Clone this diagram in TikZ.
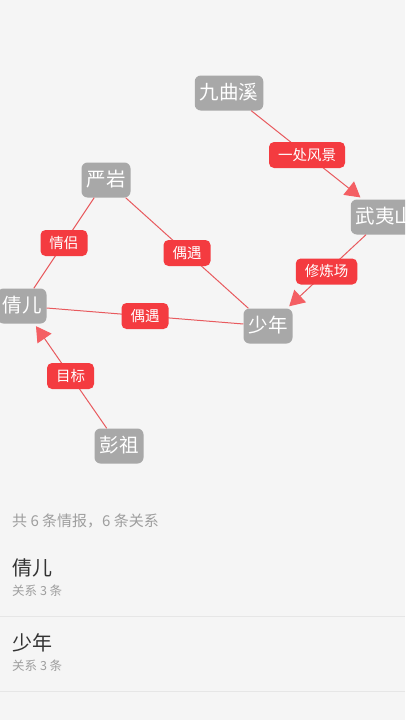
\documentclass[tikz,border=0pt]{standalone}
\usepackage{fontspec}
\setmainfont{Noto Sans CJK SC}
\usetikzlibrary{arrows.meta}
\definecolor{bg}{HTML}{F5F5F5}
\definecolor{nodegray}{HTML}{A8A8A8}
\definecolor{labred}{HTML}{F43B40}
\definecolor{edgered}{HTML}{E85A5E}
\definecolor{tipred}{HTML}{F45F63}
\definecolor{subgray}{HTML}{9E9E9E}
\definecolor{darktext}{HTML}{333333}
\definecolor{divider}{HTML}{E6E6E6}
\tikzset{
  person/.style={fill=nodegray, rounded corners=6pt, text=white, font=\fontsize{19.5}{19.5}\selectfont,
    minimum height=35pt, inner xsep=5pt, inner ysep=0pt, text height=15.5pt, text depth=2pt},
  rel/.style={fill=labred, rounded corners=5pt, text=white, font=\fontsize{14.5}{14.5}\selectfont,
    minimum height=26pt, inner xsep=9pt, inner ysep=0pt, text height=11.5pt, text depth=1.5pt},
  link/.style={draw=edgered, line width=1pt},
  arrowlink/.style={link, -{Triangle[length=15pt, width=17pt, fill=tipred, color=tipred]}, shorten >=3pt},
  summary/.style={anchor=west, text=subgray, font=\fontsize{15}{15}\selectfont, inner sep=0pt},
  itemname/.style={anchor=west, text=darktext, font=\fontsize{20}{20}\selectfont, inner sep=0pt},
  itemsub/.style={anchor=west, text=subgray, font=\fontsize{12.5}{12.5}\selectfont, inner sep=0pt},
  divline/.style={draw=divider, line width=1pt}
}
\begin{document}
\begin{tikzpicture}[x=1pt, y=-1pt]
\fill[bg] (0,0) rectangle (405,720);
\useasboundingbox (0,0) rectangle (405,720);
\begin{scope}
\clip (0,0) rectangle (405,720);
% persons
\node[person] (jqx) at (229,93) {九曲溪};
\node[person] (yy) at (106,180) {严岩};
\node[person] (wys) at (385,217) {武夷山};
\node[person] (qe) at (22,306) {倩儿};
\node[person] (sn) at (268,326) {少年};
\node[person] (pz) at (119,446) {彭祖};
% edges
\draw[arrowlink] (jqx) -- node[rel] (l1) {一处风景} (wys);
\draw[link] (yy) -- node[rel] (l2) {情侣} (qe);
\draw[link] (yy) -- node[rel] (l3) {偶遇} (sn);
\draw[arrowlink] (wys) -- node[rel] (l4) {修炼场} (sn);
\draw[link] (qe) -- node[rel] (l5) {偶遇} (sn);
\draw[arrowlink] (pz) -- node[rel] (l6) {目标} (qe);
\end{scope}
% list
\node[summary] (sum) at (12,521) {共 6 条情报，6 条关系};
\node[itemname] (n1) at (12,568) {倩儿};
\node[itemsub] (s1) at (12,591) {关系 3 条};
\coordinate (d1a) at (0,616);
\coordinate (d1b) at (405,616);
\draw[divline] (d1a) -- (d1b);
\node[itemname] (n2) at (12,643) {少年};
\node[itemsub] (s2) at (12,666) {关系 3 条};
\coordinate (d2a) at (0,691);
\coordinate (d2b) at (405,691);
\draw[divline] (d2a) -- (d2b);
\end{tikzpicture}
\end{document}
